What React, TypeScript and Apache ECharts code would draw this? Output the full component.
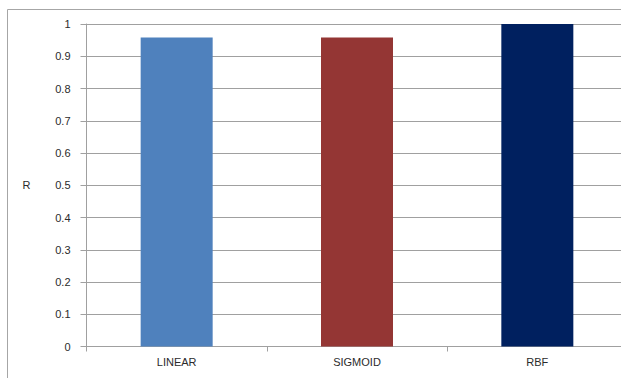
import React, { useEffect, useRef } from "react";
import * as echarts from "echarts";

// Kernel names and correlation coefficient R for each
const kernels = ["LINEAR", "SIGMOID", "RBF"];
const rValues = [0.958, 0.958, 1.0];
const barColors = ["#4F81BD", "#943634", "#00205F"];

export default function App() {
  const ref = useRef<HTMLDivElement>(null);

  useEffect(() => {
    if (!ref.current) return;
    const chart = echarts.init(ref.current, undefined, { renderer: "svg" });
    const font = "'Liberation Sans', Arial, sans-serif";
    chart.setOption({
      animation: false,
      backgroundColor: "#ffffff",
      textStyle: { fontFamily: font },
      graphic: [
        {
          type: "rect",
          shape: { x: 7.5, y: 9.5, width: 700, height: 500 },
          style: { fill: "none", stroke: "#a6a6a6", lineWidth: 1 },
          silent: true,
          z: -1,
        },
      ],
      // the plot area runs slightly past the visible frame on the right
      grid: { left: 86.5, top: 24, width: 541, height: 322.5 },
      xAxis: {
        type: "category",
        data: kernels,
        axisLine: { show: true, lineStyle: { color: "#a0a0a0" } },
        axisTick: { show: true, length: 5, lineStyle: { color: "#a0a0a0" } },
        axisLabel: { color: "#2b2b2b", fontSize: 11, margin: 10, fontFamily: font },
      },
      yAxis: {
        type: "value",
        min: 0,
        max: 1,
        interval: 0.1,
        name: "R",
        nameLocation: "middle",
        nameRotate: 0,
        nameGap: 56,
        nameTextStyle: { color: "#2b2b2b", fontSize: 11, fontFamily: font },
        axisLine: { show: true, lineStyle: { color: "#a0a0a0" } },
        axisTick: { show: true, length: 6, lineStyle: { color: "#a0a0a0" } },
        axisLabel: {
          color: "#2b2b2b",
          fontSize: 11,
          margin: 16,
          fontFamily: font,
          formatter: (v: number) => String(parseFloat(v.toFixed(1))),
        },
        splitLine: { show: true, lineStyle: { color: "#a0a0a0", width: 1 } },
      },
      series: [
        {
          type: "bar",
          barWidth: 72,
          data: rValues.map((v, i) => ({ value: v, itemStyle: { color: barColors[i] } })),
        },
      ],
    });
    return () => chart.dispose();
  }, []);

  return (
    <div
      style={{
        position: "fixed",
        left: 0,
        top: 0,
        width: 621,
        height: 378,
        overflow: "hidden",
      }}
    >
      <div ref={ref} style={{ width: 650, height: 378 }} />
    </div>
  );
}
